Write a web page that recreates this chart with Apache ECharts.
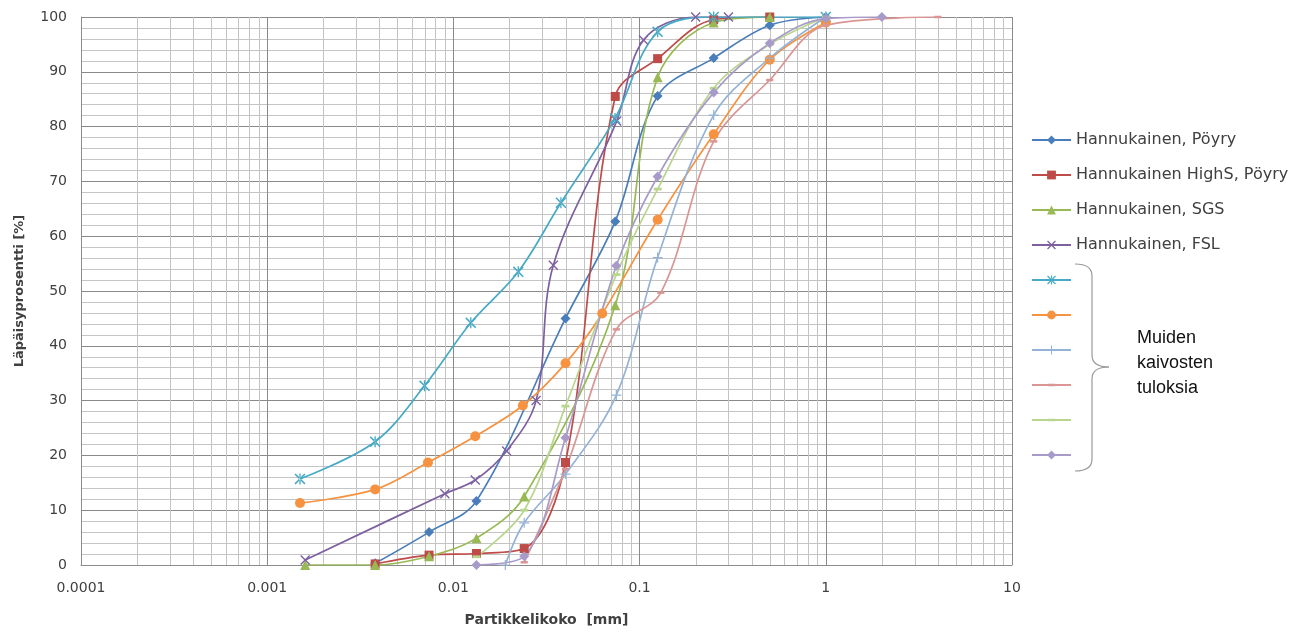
<!DOCTYPE html>
<html>
<head>
<meta charset="utf-8">
<title>Rakeisuuskäyrät</title>
<script src="https://cdn.jsdelivr.net/npm/echarts@6/dist/echarts.min.js"></script>
<style>
  html, body { margin: 0; padding: 0; background: #fff; }
  #chart { width: 1293px; height: 637px; }
</style>
</head>
<body>
<div id="chart"></div>
<script>
  // läpäisyprosentit [partikkelikoko mm, %]
  const poyry = [[0.0038,0.3],[0.0074,6],[0.0133,11.7],[0.04,45],[0.074,62.7],[0.125,85.6],[0.25,92.5],[0.5,98.5],[1,100]];
  const highS = [[0.0038,0.2],[0.0074,1.8],[0.0133,2.1],[0.024,3],[0.04,18.7],[0.074,85.5],[0.125,92.4],[0.25,99.5],[0.5,100]];
  const sgs = [[0.0016,0],[0.0038,0],[0.0074,1.6],[0.0133,4.9],[0.024,12.5],[0.074,47.4],[0.125,89],[0.25,99],[0.5,100]];
  const fsl = [[0.0016,0.9],[0.009,13],[0.0131,15.5],[0.0193,20.8],[0.0278,30],[0.0344,54.7],[0.0753,81],[0.105,95.8],[0.2,100],[0.3,100]];
  const muu1 = [[0.0015,15.7],[0.0038,22.5],[0.007,32.7],[0.0124,44.2],[0.0223,53.5],[0.0378,66.1],[0.0738,81.5],[0.125,97.3],[0.25,100],[1,100]];
  const muu2 = [[0.0015,11.3],[0.0038,13.8],[0.0073,18.7],[0.0131,23.5],[0.0236,29.1],[0.04,36.8],[0.063,45.9],[0.125,63],[0.25,78.6],[0.5,92.2],[1,99]];
  const muu3 = [[0.019,0],[0.024,7.7],[0.04,16.6],[0.075,31],[0.125,56.1],[0.25,82.1],[0.5,92.5],[1,100]];
  const muu4 = [[0.024,0.5],[0.04,17.5],[0.075,43],[0.13,49.7],[0.25,77.3],[0.5,88.5],[1,98.5],[4,100]];
  const muu5 = [[0.0133,1.5],[0.024,10],[0.04,29],[0.075,53],[0.125,68.6],[0.25,87],[0.5,95],[1,100]];
  const muu6 = [[0.0133,0],[0.024,1.6],[0.04,23.2],[0.075,54.6],[0.125,70.9],[0.25,86.2],[0.5,95.2],[1,99.7],[2,100]];

  const seriesNames = ['Hannukainen, Pöyry', 'Hannukainen HighS, Pöyry', 'Hannukainen, SGS', 'Hannukainen, FSL',
    'Muu 1', 'Muu 2', 'Muu 3', 'Muu 4', 'Muu 5', 'Muu 6'];
  const seriesData = [poyry, highS, sgs, fsl, muu1, muu2, muu3, muu4, muu5, muu6];
  const colors = ['#4a7ebb', '#be4b48', '#98b954', '#7d60a0', '#46aac5', '#f69240', '#95b3d7', '#d99694', '#b9d68e', '#a99bc9'];

  // log-akselin apuviivat 2..9 * 10^n
  const minorX = [0.0001, 0.001, 0.01, 0.1, 1].flatMap(d => [2,3,4,5,6,7,8,9].map(k => +(k * d).toPrecision(3)));

  const X_PATH = 'path://M1,0L5,4L9,0L10,1L6,5L10,9L9,10L5,6L1,10L0,9L4,5L0,1Z';
  const STAR_PATH = 'path://M1,0L5,4L9,0L10,1L6,5L10,9L9,10L5,6L1,10L0,9L4,5L0,1Z M4.4,0L4.4,10L5.6,10L5.6,0Z';
  const PLUS_PATH = 'path://M4.4,0L5.6,0L5.6,10L4.4,10Z M0,4.4L0,5.6L10,5.6L10,4.4Z';
  // viiva-merkki: tyhjät M-pisteet pitävät rajauslaatikon neliönä
  const DASH_PATH = 'path://M0,0M10,10M1,3.6L9,3.6L9,6.4L1,6.4Z';
  const symbols = ['diamond', 'rect', 'triangle', X_PATH, STAR_PATH, 'circle', PLUS_PATH, DASH_PATH, DASH_PATH, 'diamond'];
  const symbolSizes = [10, 9, 10, 10, 11, 10, 10, 9, 10, 10];

  let chart = echarts.init(document.getElementById('chart'));

  let series = seriesData.map((d, i) => ({
    name: seriesNames[i],
    type: 'line',
    data: d,
    smooth: 0.35,
    symbol: symbols[i],
    symbolSize: symbolSizes[i],
    showSymbol: true,
    z: 3,
    lineStyle: { width: 1.7, color: colors[i] },
    itemStyle: { color: colors[i] }
  }));

  // harvat pystyviivat akselin omalla asteikolla
  series.unshift({
    name: 'apu',
    type: 'custom',
    data: minorX.map(v => [v, 0]),
    silent: true,
    z: 1,
    renderItem: function (params, api) {
      let p0 = api.coord([api.value(0), 0]);
      let p1 = api.coord([api.value(0), 100]);
      let x = Math.round(p0[0]) + 0.5;
      return {
        type: 'line',
        shape: { x1: x, y1: p0[1], x2: x, y2: p1[1] },
        style: { stroke: '#c4c4c4', lineWidth: 1 }
      };
    }
  });

  const braceStyle = { stroke: '#9a9a9a', lineWidth: 1.2, fill: 'none' };

  let option = {
    animation: false,
    backgroundColor: '#fff',
    color: colors,
    grid: { left: 81, right: 281, top: 17, bottom: 72 },
    legend: {
      data: seriesNames,
      orient: 'vertical',
      left: 1026,
      top: 127,
      itemWidth: 39,
      itemHeight: 11,
      itemGap: 19,
      textStyle: { fontFamily: 'DejaVu Sans', fontSize: 16, color: '#404040' },
      formatter: name => name.startsWith('Muu') ? ' ' : name
    },
    xAxis: {
      type: 'log',
      logBase: 10,
      min: 0.0001,
      max: 10,
      name: 'Partikkelikoko  [mm]',
      nameLocation: 'middle',
      nameGap: 48,
      nameTextStyle: { fontFamily: 'DejaVu Sans', fontSize: 14, fontWeight: 'bold', color: '#404040' },
      axisLine: { lineStyle: { color: '#8c8c8c' } },
      axisTick: { show: false },
      axisLabel: {
        margin: 16,
        fontFamily: 'DejaVu Sans', fontSize: 14, color: '#404040',
        formatter: v => String(Number(Number(v).toPrecision(4)))
      },
      splitLine: { show: true, lineStyle: { color: '#8a8a8a', width: 1 } }
    },
    yAxis: {
      type: 'value',
      min: 0,
      max: 100,
      interval: 10,
      name: 'Läpäisyprosentti [%]',
      nameLocation: 'middle',
      nameGap: 55,
      nameTextStyle: { fontFamily: 'DejaVu Sans', fontSize: 13, fontWeight: 'bold', color: '#404040' },
      axisLine: { show: true, lineStyle: { color: '#8c8c8c' } },
      axisTick: { show: false },
      axisLabel: { margin: 14, fontFamily: 'DejaVu Sans', fontSize: 14, color: '#404040' },
      splitLine: { show: true, lineStyle: { color: '#8a8a8a', width: 1 } },
      minorTick: { show: false, splitNumber: 5 },
      minorSplitLine: { show: true, lineStyle: { color: '#c4c4c4', width: 1 } }
    },
    graphic: [
      { type: 'bezierCurve', shape: { x1: 1075, y1: 264, cpx1: 1092, cpy1: 264, x2: 1092, y2: 276 }, style: braceStyle },
      { type: 'line', shape: { x1: 1092, y1: 276, x2: 1092, y2: 355 }, style: braceStyle },
      { type: 'bezierCurve', shape: { x1: 1092, y1: 355, cpx1: 1092, cpy1: 367, x2: 1109, y2: 367 }, style: braceStyle },
      { type: 'bezierCurve', shape: { x1: 1109, y1: 367, cpx1: 1092, cpy1: 367, x2: 1092, y2: 379 }, style: braceStyle },
      { type: 'line', shape: { x1: 1092, y1: 379, x2: 1092, y2: 459 }, style: braceStyle },
      { type: 'bezierCurve', shape: { x1: 1092, y1: 459, cpx1: 1092, cpy1: 471, x2: 1075, y2: 471 }, style: braceStyle },
      {
        type: 'text',
        left: 1137,
        top: 326,
        style: {
          text: 'Muiden\nkaivosten\ntuloksia',
          font: '18px "Liberation Sans", Arial, sans-serif',
          lineHeight: 25,
          fill: '#111'
        }
      }
    ],
    series: series
  };

  chart.setOption(option);
</script>
</body>
</html>
